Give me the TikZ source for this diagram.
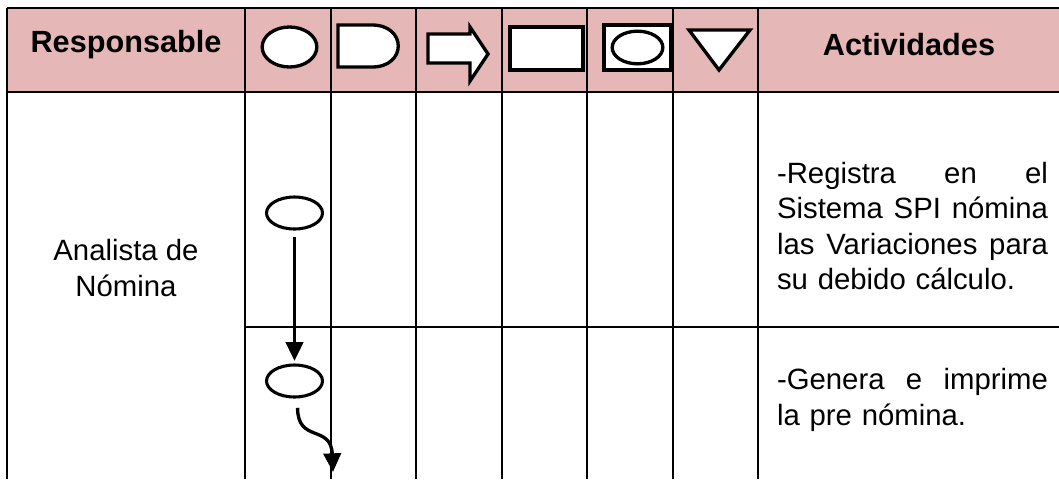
\documentclass[tikz,border=0pt]{standalone}
\usepackage{fontspec}
\setmainfont{Liberation Sans}
\usetikzlibrary{arrows.meta, shapes.geometric, positioning}
\definecolor{headpink}{HTML}{E5B8B7}

\begin{document}
\begin{tikzpicture}[
  x=0.75pt, y=-0.75pt,
  grid/.style={line width=1.5pt},
  sym/.style={draw=black, line width=2.5pt, fill=white, inner sep=0pt},
  oval/.style={ellipse, draw=black, line width=2.3pt, fill=white, inner sep=0pt, minimum width=42pt, minimum height=24pt},
  head/.style={font=\fontsize{23}{27}\selectfont\bfseries},
  body/.style={font=\fontsize{22}{26.5}\selectfont},
  activity/.style={body, text width=203.25pt, align=left},
  flow/.style={line width=2.5pt, -{Triangle[length=14pt,width=13pt]}}
]
\useasboundingbox (0,0) rectangle (1059,479);
\fill[headpink] (7,8) rectangle (1059,92);
\draw[grid] (7,8) -- (1059,8);
\draw[grid] (7,92) -- (1059,92);
\draw[grid] (245,327) -- (1059,327);
\foreach \x in {7,245,330.5,416,501.5,587,672.5,758}
  \draw[grid] (\x,8) -- (\x,479);

\node[head] (resp) at (126,45) {Responsable};
\node[head] (act) at (909,45) {Actividades};

\node[sym, ellipse, minimum width=41pt, minimum height=30pt] (hop) at (289.5,47) {};
\draw[sym] (338,25) -- (372,25) .. controls (407,25) and (407,67) .. (372,67) -- (338,67) -- cycle;
\draw[sym] (428,34) -- (470,34) -- (470,27) -- (488,54) -- (470,81) -- (470,63) -- (428,63) -- cycle;
\node[sym, rectangle, minimum width=54.75pt, minimum height=32.25pt] (hinsp) at (546.5,48.5) {};
\node[sym, rectangle, minimum width=50.25pt, minimum height=33.75pt] (hcomb) at (637.5,47.5) {};
\node[sym, ellipse, minimum width=38pt, minimum height=24.5pt] (hcombov) at (hcomb) {};
\draw[sym] (689,30) -- (750,30) -- (719,70) -- cycle;

\node[body, align=center] (who) at (126,268) {Analista de\\Nómina};

\node[oval] (o1) at (294.5,213) {};
\node[oval] (o2) at (294.5,381) {};
\coordinate (tip) at (333,472);

\node[activity] (act1) at (912.5,226) {-Registra\hfill en\hfill el\\Sistema\hfill SPI\hfill nómina\\las\hfill Variaciones\hfill para\\su debido cálculo.};
\node[activity] (act2) at (912.5,400) {-Genera\hfill e\hfill imprime\\la pre nómina.};

\draw[flow, shorten <=5pt, shorten >=2pt] (o1) -- (o2);
\draw[flow, shorten <=7pt] (o2.-80) .. controls +(0,45) and +(-2,-48) .. (tip);
\end{tikzpicture}
\end{document}
